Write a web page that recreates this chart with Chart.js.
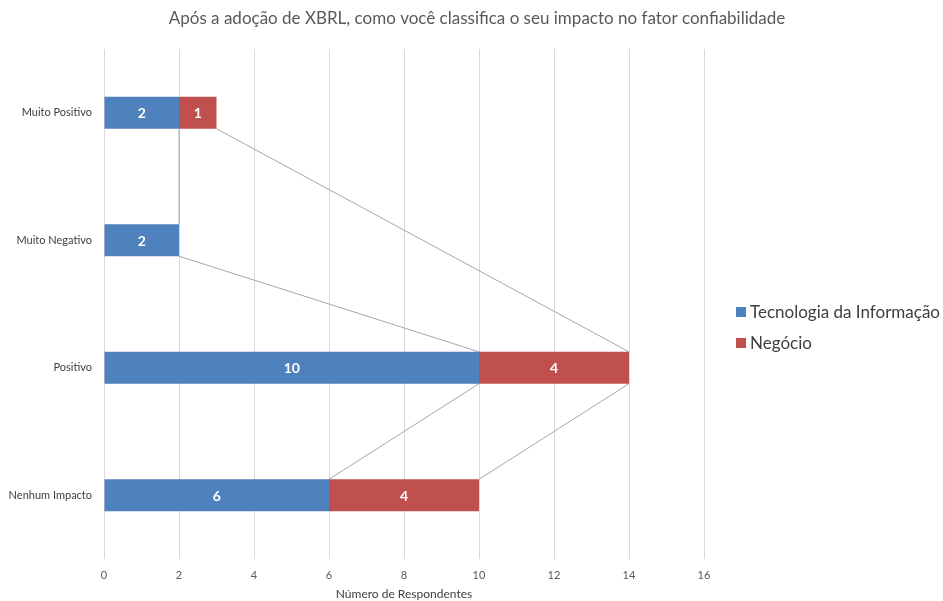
<!DOCTYPE html>
<html>
<head>
<meta charset="utf-8">
<script src="https://cdn.jsdelivr.net/npm/chart.js@4/dist/chart.umd.min.js"></script>
<style>
  html, body { margin: 0; padding: 0; background: #ffffff; }
  #wrap { width: 943px; height: 601px; position: relative; }
</style>
</head>
<body>
<div id="wrap"><canvas id="chart" width="943" height="601"></canvas></div>
<script>
const categories = ['Muito Positivo', 'Muito Negativo', 'Positivo', 'Nenhum Impacto'];
const tecnologiaInformacao = [2, 2, 10, 6];
const negocio = [1, null, 4, 4];
const seriesNames = ['Tecnologia da Informação', 'Negócio'];
const xTicks = [0, 2, 4, 6, 8, 10, 12, 14, 16];
const chartTitle = 'Após a adoção de XBRL, como você classifica o seu impacto no fator confiabilidade';
const xAxisTitle = 'Número de Respondentes';

const FONT = 'Lato, "Open Sans", sans-serif';
const BLUE = '#4F81BD';
const RED = '#C0504D';

// Lines joining the end of each series segment from one bar to the next
const seriesLines = {
  id: 'seriesLines',
  beforeDatasetsDraw(chart) {
    const ctx = chart.ctx;
    const xs = chart.scales.x;
    ctx.save();
    ctx.strokeStyle = '#A6A6A6';
    ctx.lineWidth = 1;
    chart.data.datasets.forEach((ds, d) => {
      const meta = chart.getDatasetMeta(d);
      let prev = null;
      ds.data.forEach((v, i) => {
        if (v === null || v === undefined) return;
        let cum = 0;
        for (let k = 0; k <= d; k++) cum += chart.data.datasets[k].data[i] || 0;
        const bar = meta.data[i];
        const px = xs.getPixelForValue(cum);
        const top = bar.y - bar.height / 2;
        const bottom = bar.y + bar.height / 2;
        if (prev) {
          ctx.beginPath();
          ctx.moveTo(prev.x, prev.bottom);
          ctx.lineTo(px, top);
          ctx.stroke();
        }
        prev = { x: px, bottom: bottom };
      });
    });
    ctx.restore();
  }
};

// Value labels centred inside each bar segment
const valueLabels = {
  id: 'valueLabels',
  afterDatasetsDraw(chart) {
    const ctx = chart.ctx;
    ctx.save();
    ctx.fillStyle = '#ffffff';
    ctx.font = 'bold 14px ' + FONT;
    ctx.textAlign = 'center';
    ctx.textBaseline = 'middle';
    chart.data.datasets.forEach((ds, d) => {
      const meta = chart.getDatasetMeta(d);
      ds.data.forEach((v, i) => {
        if (v === null || v === undefined) return;
        const bar = meta.data[i];
        const cx = (bar.x + bar.base) / 2;
        ctx.fillText(String(v), cx, bar.y + 1);
      });
    });
    ctx.restore();
  }
};

// Chart title centred across the whole canvas, legend at the right
const frame = {
  id: 'frame',
  afterDraw(chart) {
    const ctx = chart.ctx;
    const area = chart.chartArea;
    ctx.save();
    ctx.font = '17px ' + FONT;
    ctx.fillStyle = '#595959';
    ctx.textAlign = 'center';
    ctx.textBaseline = 'middle';
    ctx.fillText(chartTitle, 477, 19);

    const x = area.right + 32;
    const y0 = 312;
    const gap = 31;
    ctx.font = '17px ' + FONT;
    ctx.textAlign = 'left';
    chart.data.datasets.forEach((ds, d) => {
      const y = y0 + d * gap;
      ctx.fillStyle = ds.backgroundColor;
      ctx.fillRect(x, y - 5, 10, 10);
      ctx.fillStyle = '#404040';
      ctx.fillText(ds.label, x + 14, y + 1);
    });
    ctx.restore();
  }
};

new Chart(document.getElementById('chart'), {
  type: 'bar',
  data: {
    labels: categories,
    datasets: [
      { label: seriesNames[0], data: tecnologiaInformacao, backgroundColor: BLUE },
      { label: seriesNames[1], data: negocio, backgroundColor: RED }
    ]
  },
  options: {
    indexAxis: 'y',
    responsive: false,
    animation: false,
    layout: { padding: { left: 0, right: 239, top: 49, bottom: 0 } },
    datasets: { bar: { categoryPercentage: 1, barPercentage: 0.25 } },
    plugins: {
      legend: { display: false },
      tooltip: { enabled: false },
      title: { display: false }
    },
    scales: {
      x: {
        stacked: true,
        min: 0,
        max: 16,
        afterBuildTicks(scale) { scale.ticks = xTicks.map(v => ({ value: v })); },
        afterFit(scale) { scale.height = 42; },
        grid: { color: '#D9D9D9', drawTicks: false, lineWidth: 1 },
        border: { display: false },
        ticks: { color: '#595959', font: { family: FONT, size: 11 }, padding: 10 },
        title: {
          display: true,
          text: xAxisTitle,
          color: '#404040',
          font: { family: FONT, size: 12 },
          padding: { top: 0, bottom: 0 }
        }
      },
      y: {
        stacked: true,
        afterFit(scale) { scale.width = 104; },
        grid: { display: false, drawTicks: false },
        border: { display: false },
        ticks: { color: '#404040', font: { family: FONT, size: 11 }, padding: 12 }
      }
    }
  },
  plugins: [seriesLines, valueLabels, frame]
});
</script>
</body>
</html>
